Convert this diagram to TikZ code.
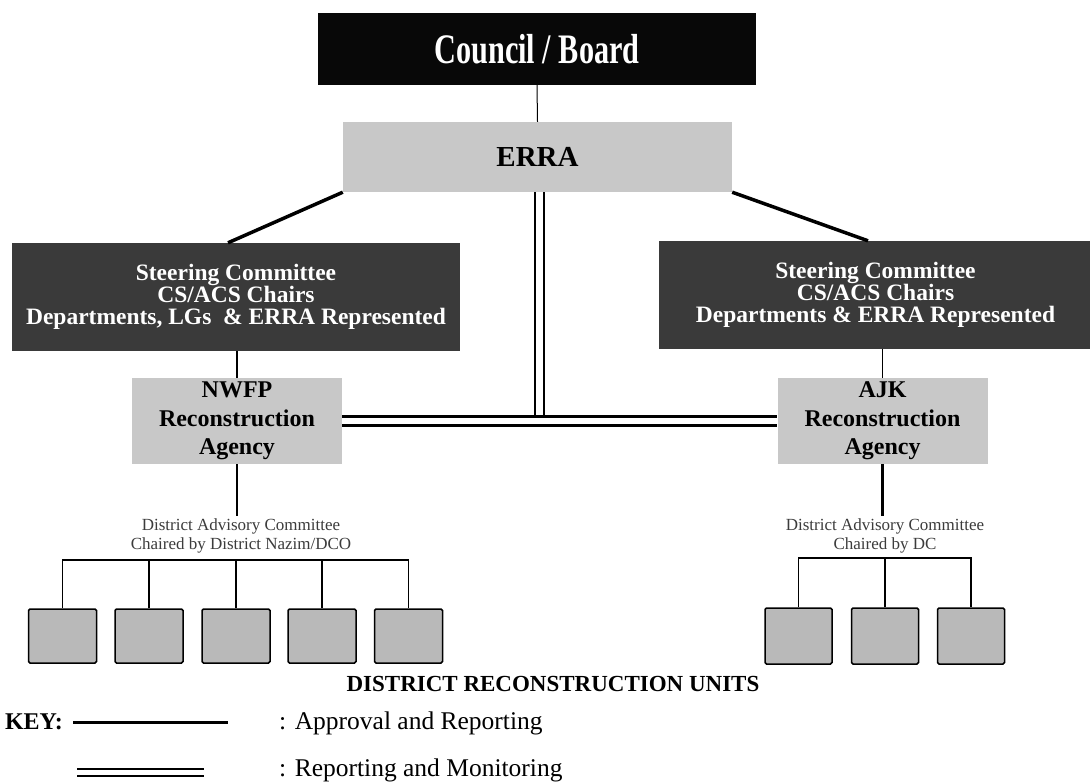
\documentclass[tikz,border=0pt]{standalone}
\usepackage{fontspec}
\setmainfont{Liberation Serif}
\usetikzlibrary{calc}
\definecolor{boardblack}{RGB}{8,8,8}
\definecolor{steerdark}{RGB}{58,58,58}
\definecolor{lightbox}{RGB}{200,200,200}
\definecolor{unitgray}{RGB}{185,185,185}
\definecolor{daccol}{RGB}{60,60,60}
\tikzset{
  x=1pt, y=-1pt,
  boxbase/.style={rectangle, inner sep=0pt, align=center},
  boardbox/.style={boxbase, fill=boardblack, text=white},
  errabox/.style={boxbase, fill=lightbox},
  steerbox/.style={boxbase, fill=steerdark, text=white,
    font=\fontsize{23.5}{22}\selectfont\bfseries},
  agencybox/.style={boxbase, fill=lightbox,
    font=\fontsize{24}{28.5}\selectfont\bfseries, minimum width=210pt, minimum height=86pt},
  unitbox/.style={rectangle, draw=black, line width=1.5pt, fill=unitgray,
    rounded corners=1.5pt, inner sep=0pt},
  daclabel/.style={align=center, text=daccol, inner sep=0pt,
    font=\fontsize{17}{19}\selectfont},
  thinline/.style={line width=1pt},
  medline/.style={line width=1.5pt},
  approvalline/.style={line width=3.5pt},
  downline/.style={line width=2.5pt},
  dblline/.style={line width=2.5pt, double=white, double distance=6.5pt},
  keydbl/.style={line width=2pt, double=white, double distance=5pt},
}
\begin{document}
\begin{tikzpicture}
\useasboundingbox[fill=white] (0,0) rectangle (1090,784);

% top boxes
\node[boardbox, minimum width=438pt, minimum height=72pt] (board) at (537,49)
  {\scalebox{0.72}[1]{\fontsize{42}{42}\selectfont\bfseries Council / Board}};
\node[errabox, minimum width=389pt, minimum height=70pt, font=\fontsize{29}{29}\selectfont\bfseries] (erra) at (537.5,157) {ERRA};

% steering committees
\node[steerbox, minimum width=448pt, minimum height=108pt] (lsteer) at (236,297)
  {Steering Committee\\CS/ACS Chairs\\Departments, LGs\ \ \& ERRA Represented};
\node[steerbox, minimum width=433pt, minimum height=108pt] (rsteer) at (875.5,295)
  {Steering Committee\\CS/ACS Chairs\\Departments \& ERRA Represented};

% agencies
\node[agencybox] (nwfp) at (237,421) {NWFP\\Reconstruction\\Agency};
\node[agencybox] (ajk) at (882.5,421) {AJK\\Reconstruction\\Agency};

% district advisory committees
\node[daclabel] (ldac) at (241,536) {District Advisory Committee\\Chaired by District Nazim/DCO};
\node[daclabel] (rdac) at (885,536) {District Advisory Committee\\Chaired by DC};

% district units
\foreach \i/\xx in {1/62.5,2/149,3/236,4/322,5/408.5}{
  \node[unitbox, minimum width=68pt, minimum height=54pt] (lb\i) at (\xx,636) {};
}
\foreach \i/\xx in {1/798.5,2/885,3/971}{
  \node[unitbox, minimum width=67pt, minimum height=56pt] (rb\i) at (\xx,636) {};
}
\node[inner sep=0pt, font=\fontsize{23}{23}\selectfont\bfseries] (dru) at (553,684) {DISTRICT RECONSTRUCTION UNITS};

% connectors
\draw[thinline] (board.south) -- (erra.north);
\draw[approvalline] (erra.south west) -- ([xshift=-8pt]lsteer.north);
\draw[approvalline] (erra.south east) -- ([xshift=-7.5pt]rsteer.north);
\draw[medline] (nwfp.north |- lsteer.south) -- (nwfp.north);
\draw[medline] (ajk.north |- rsteer.south) -- (ajk.north);

\draw[dblline] (nwfp.east) -- (ajk.west);
\draw[dblline, shorten >=5.6pt] ([xshift=2pt]erra.south) -- ([xshift=2pt]erra.south |- nwfp.east);

\draw[downline] (nwfp.south) -- ([yshift=3pt]nwfp.south |- ldac.north);
\draw[downline] (ajk.south) -- ([yshift=3pt]ajk.south |- rdac.north);

\coordinate (lbar) at (0,560);
\coordinate (rbar) at (0,558);
\draw[medline] (lb1.north) |- (lbar -| lb5.north) -- (lb5.north);
\foreach \i in {2,3,4}{ \draw[medline] (lb\i.north) -- (lb\i.north |- lbar); }
\draw[medline] (rb1.north) |- (rbar -| rb3.north) -- (rb3.north);
\draw[medline] (rb2.north) -- (rb2.north |- rbar);

% key
\node[inner sep=0pt, anchor=base east, font=\fontsize{24}{24}\selectfont\bfseries] (key) at (63,729) {KEY:};
\coordinate (k1a) at (73,722);
\coordinate (k1b) at (228,722);
\draw[line width=3pt] (k1a) -- (k1b);
\node[inner sep=0pt, anchor=base west, font=\fontsize{25.5}{25.5}\selectfont] (kt1) at (279,729) {: Approval and Reporting};
\coordinate (k2a) at (77,772);
\coordinate (k2b) at (204,772);
\draw[keydbl] (k2a) -- (k2b);
\node[inner sep=0pt, anchor=base west, font=\fontsize{25.5}{25.5}\selectfont] (kt2) at (279,776) {: Reporting and Monitoring};
\end{tikzpicture}
\end{document}
